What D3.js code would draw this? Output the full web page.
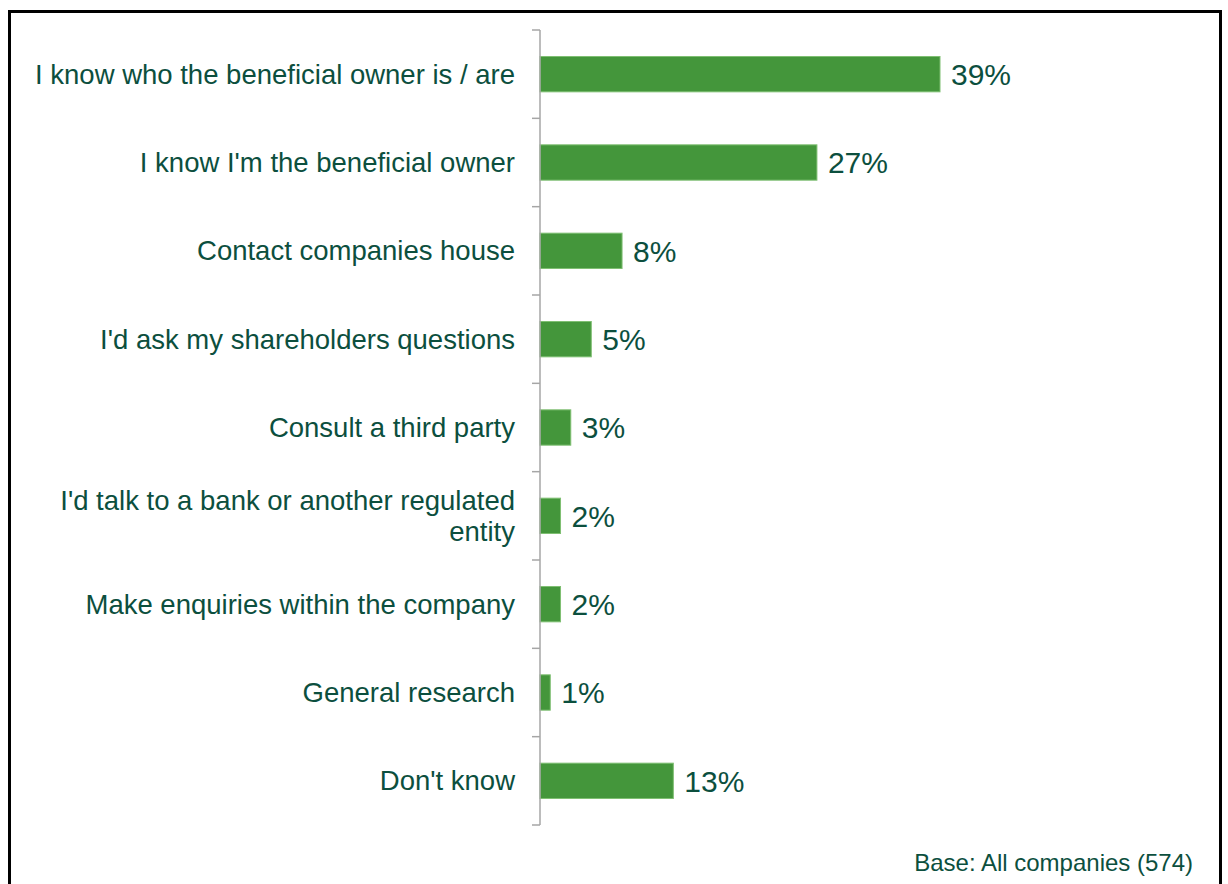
<!DOCTYPE html>
<html>
<head>
<meta charset="utf-8">
<script src="https://cdn.jsdelivr.net/npm/d3@7"></script>
<style>
  html, body { margin: 0; padding: 0; background: #fff; }
  svg { display: block; }
  text { font-family: "Liberation Sans", Arial, sans-serif; fill: #0c4f3e; }
</style>
</head>
<body>
<svg id="chart" width="1228" height="884"></svg>
<script>
// Responses: how companies would identify their beneficial owner(s)
const categories = [
  "I know who the beneficial owner is / are",
  "I know I'm the beneficial owner",
  "Contact companies house",
  "I'd ask my shareholders questions",
  "Consult a third party",
  "I'd talk to a bank or another regulated entity",
  "Make enquiries within the company",
  "General research",
  "Don't know"
];
const values = [39, 27, 8, 5, 3, 2, 2, 1, 13];
const valueLabels = ["39%", "27%", "8%", "5%", "3%", "2%", "2%", "1%", "13%"];
const baseNote = "Base: All companies (574)";

const svg = d3.select("#chart");

// outer frame
svg.append("rect")
  .attr("x", 9.5).attr("y", 11.5)
  .attr("width", 1211).attr("height", 900)
  .attr("fill", "none").attr("stroke", "#000").attr("stroke-width", 3);

const axisX = 540;
const y = d3.scaleBand()
  .domain(categories)
  .range([30, 825])
  .paddingInner(0.6)
  .paddingOuter(0.3);

const x = d3.scaleLinear()
  .domain([0, 39])
  .range([axisX, 940]);

// bars
svg.append("g").selectAll("rect")
  .data(categories)
  .join("rect")
  .attr("x", x(0))
  .attr("y", d => y(d))
  .attr("width", (d, i) => x(values[i]) - x(0))
  .attr("height", y.bandwidth())
  .attr("fill", "#44963b")
  .attr("stroke", "#7fbf72")
  .attr("stroke-width", 1);

// category axis: line with ticks at band boundaries
const axisG = svg.append("g");
const bandStep = y.step();
const axisTop = y.range()[0], axisBottom = y.range()[1];
axisG.append("line")
  .attr("x1", axisX).attr("x2", axisX)
  .attr("y1", axisTop).attr("y2", axisBottom)
  .attr("stroke", "#a6a6a6").attr("stroke-width", 1.5);
d3.range(categories.length + 1).forEach(k => {
  const ty = axisTop + k * bandStep;
  axisG.append("line")
    .attr("x1", axisX - 8).attr("x2", axisX)
    .attr("y1", ty).attr("y2", ty)
    .attr("stroke", "#a6a6a6").attr("stroke-width", 1.5);
});

// category labels (wrapped where needed)
const wrapped = {
  "I'd talk to a bank or another regulated entity": ["I'd talk to a bank or another regulated", "entity"]
};
const labelG = svg.append("g");
categories.forEach(c => {
  const cy = y(c) + y.bandwidth() / 2;
  const lines = wrapped[c] || [c];
  const lh = 31;
  const t = labelG.append("text")
    .attr("text-anchor", "end")
    .attr("font-size", 27.5)
    .attr("x", 515);
  lines.forEach((ln, j) => {
    t.append("tspan")
      .attr("x", 515)
      .attr("y", cy + (j - (lines.length - 1) / 2) * lh)
      .attr("dy", "0.35em")
      .text(ln);
  });
});

// value labels
svg.append("g").selectAll("text")
  .data(categories)
  .join("text")
  .attr("x", (d, i) => x(values[i]) + 11)
  .attr("y", d => y(d) + y.bandwidth() / 2)
  .attr("dy", "0.36em")
  .attr("font-size", 30)
  .text((d, i) => valueLabels[i]);

// base note
svg.append("text")
  .attr("x", 1193).attr("y", 871)
  .attr("text-anchor", "end")
  .attr("font-size", 24)
  .text(baseNote);
</script>
</body>
</html>
